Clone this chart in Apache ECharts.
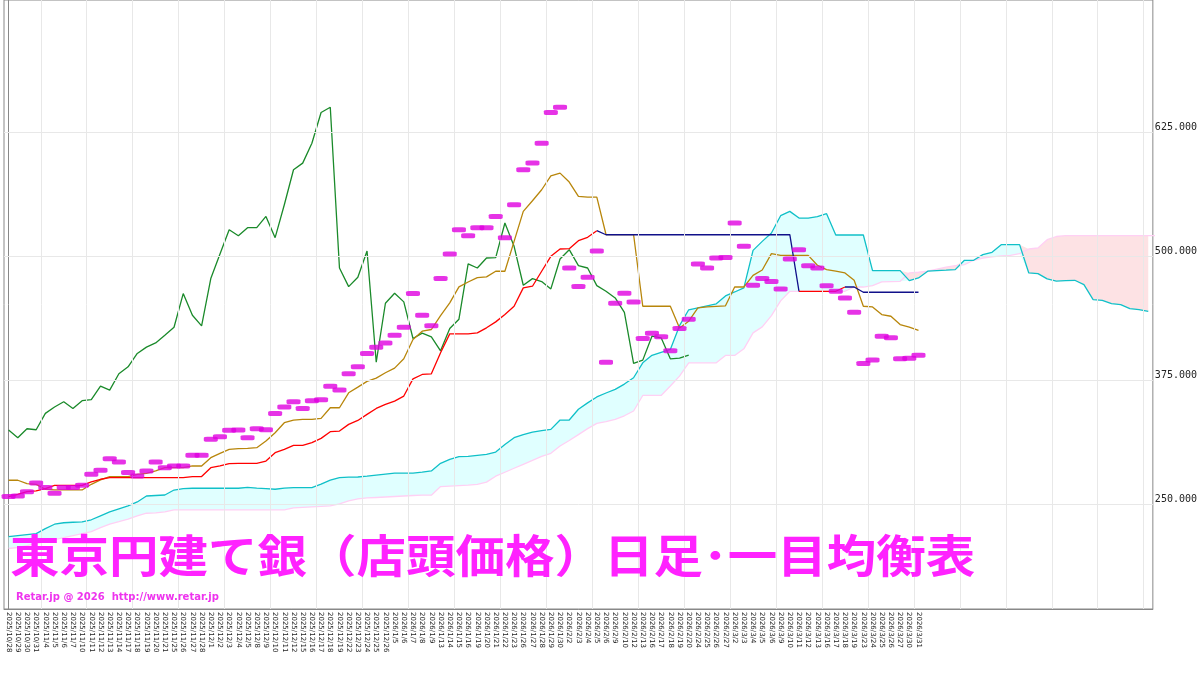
<!DOCTYPE html>
<html><head><meta charset="utf-8">
<script src="https://cdn.jsdelivr.net/npm/echarts@6/dist/echarts.min.js"></script>
<style>html,body{margin:0;padding:0;background:#fff}#c{width:1200px;height:675px}</style>
</head><body><div id="c"></div>
<script>
const dates = ["2025/10/28","2025/10/29","2025/10/30","2025/10/31","2025/11/4","2025/11/5","2025/11/6","2025/11/7","2025/11/10","2025/11/11","2025/11/12","2025/11/13","2025/11/14","2025/11/17","2025/11/18","2025/11/19","2025/11/20","2025/11/21","2025/11/25","2025/11/26","2025/11/27","2025/11/28","2025/12/1","2025/12/2","2025/12/3","2025/12/4","2025/12/5","2025/12/8","2025/12/9","2025/12/10","2025/12/11","2025/12/12","2025/12/15","2025/12/16","2025/12/17","2025/12/18","2025/12/19","2025/12/22","2025/12/23","2025/12/24","2025/12/25","2025/12/26","2026/1/5","2026/1/6","2026/1/7","2026/1/8","2026/1/9","2026/1/13","2026/1/14","2026/1/15","2026/1/16","2026/1/19","2026/1/20","2026/1/21","2026/1/22","2026/1/23","2026/1/26","2026/1/27","2026/1/28","2026/1/29","2026/1/30","2026/2/2","2026/2/3","2026/2/4","2026/2/5","2026/2/6","2026/2/9","2026/2/10","2026/2/12","2026/2/13","2026/2/16","2026/2/17","2026/2/18","2026/2/19","2026/2/20","2026/2/24","2026/2/25","2026/2/26","2026/2/27","2026/3/2","2026/3/3","2026/3/4","2026/3/5","2026/3/6","2026/3/9","2026/3/10","2026/3/11","2026/3/12","2026/3/13","2026/3/16","2026/3/17","2026/3/18","2026/3/19","2026/3/23","2026/3/24","2026/3/25","2026/3/26","2026/3/27","2026/3/30","2026/3/31"];
const futureCount = 25;
const closes = [257.4,258,262.4,271.2,266.5,260.7,266.5,266.5,268.8,279.9,284,295.7,292.3,281.6,278.2,283.3,292.3,286.6,288.3,288.3,299.1,299.1,315.2,317.9,324.3,
324.6,316.9,325.9,324.9,341.4,347.8,353.2,346.4,354.2,355.2,368.9,364.9,381.4,388.4,401.9,408.3,412.6,420.4,428.4,462.4,440.5,429.8,477.5,502.4,526.9,520.8,528.9,528.9,540.3,518.8,552.1,587.4,594.1,614.2,645.2,650.5,488.2,469.4,478.8,505.4,393.1,452.6,462.7,454.0,417.0,422.4,418.7,404.6,427.1,436.5,492.3,488.2,498.3,498.7,533.6,510.1,470.8,477.5,474.5,467.1,497.3,506.7,490.6,488.2,470.4,464.7,458.0,443.5,391.8,395.2,419.4,417.7,396.5,397.2,400.2];
const laggingShift = 25;
const tenkan = [273.9,273.9,270.5,269.8,264.8,264.1,264.1,264.1,264.1,269.8,274.2,277.6,277.6,277.6,279.9,280.9,283.3,286.6,286.6,286.6,288.3,288.3,296.7,301.1,305.1,305.8,306.1,306.8,313.5,321.9,332,334.7,335.3,335.3,336.4,347.1,347.1,362.2,367.9,373.7,377,382.4,387.1,396.5,416,424.4,426.1,440.2,453,469.1,474.1,478.5,479.2,484.9,484.9,515.1,545.4,556.1,567.2,581.3,584,575,560.5,559.8,559.8,522,522,522,522,449.6,449.6,449.6,449.6,427.7,434.5,447.9,449,449.5,450,469,469,480.8,486.2,502.7,501,501,501,501,491,486.6,485,483.2,475.8,449.6,448.9,441.2,439.5,431.1,428.4,425.3];
const kijun = [257.4,259.7,262.4,263.1,265.5,268.8,268.8,268.8,268.8,272.2,274.9,276.6,276.6,276.6,276.6,276.6,276.6,276.6,276.6,276.6,277.6,277.6,286.6,288.3,290.7,291,291,291,293.3,301.7,305.1,309.1,309.1,311.8,316.2,322.9,323.6,330.3,334.3,340.4,346.4,350.5,353.8,358.9,376.3,380.7,381.4,402.6,421.7,421.7,421.7,422.7,427.8,433.8,441.2,449.6,468.1,469.8,484.9,500,507.4,507.7,515.8,519.2,525.9,521.8,521.8,521.8,521.8,521.8,521.8,521.8,521.8,521.8,521.8,521.8,521.8,521.8,521.8,521.8,521.8,521.8,521.8,521.8,521.8,521.8,464.7,464.7,464.7,464.7,464.7,469,469,463.7,463.7,463.7,463.7,463.7,463.7,463.7];
const kijunRedRanges = [[0,64],[86,91]];
const spanA = [217,218,219,220,225,229.5,231,231.5,231.8,234,238,241.9,245,248,252,258,258.5,259,264,265.5,265.8,265.8,265.8,265.8,265.8,265.8,266.8,266,265.5,264.8,266,266.5,266.5,266.5,270,274,276.5,277,277.2,278,279,280,281,281,281,282,283.3,291,295,297.7,298,299,300,302.4,310,316.9,320,322.5,324,325.3,334.7,334.7,345.6,352,358,362,365.6,371,377.4,392.5,400,403,406,430,446,448,450,452,460,464,468.1,506,515.1,523.5,541,545.4,538.6,538.6,540,543,521.5,521.5,521.5,521.5,485.6,485.6,485.6,485.6,475.5,478.2,485,485.5,486,486.6,496,496,501.7,504,511.8,511.8,511.8,483.2,482.5,477.2,475,475.5,475.8,471.4,456.3,455.6,452.3,451.3,447.2,446.2,444.5];
const spanB = [205,206,208,210,212,214,216,218,220,222,226,229.5,232,234.6,238,240.6,241,242,244,244,244,244,244,244,244,244,244,244,244,244,244,246,246.5,247,247.5,248,250,253,255,256,256.5,257,257.5,258,258.5,258.8,258.8,267.5,268,268.5,269,269.8,272,278,282,286,290,294,298,301.1,308.5,314,320,326,331.3,333,335.3,339,343.8,359.5,359.5,359.5,369,379,392.5,392.5,392.5,392.5,399.9,399.9,406.6,422.7,428.8,440.2,455,464.7,464.7,464.7,464.7,464.7,464.7,464.7,469,469,470.4,474.1,474.5,474.8,483.2,483.9,485,487,489,490.5,491.6,496,498.3,499.5,500.5,501,502.7,507.4,508.4,516.8,520,520.8,520.8,520.8,520.8,520.8,520.8,520.8,520.8,520.8,520.8,520.8];
const yTicks = [250,375,500,625];
const titleText = "東京円建て銀（店頭価格）日足･一目均衡表";
const creditText = "Retar.jp @ 2026  http://www.retar.jp";

const N = dates.length + futureCount;
const cats = dates.concat(Array(futureCount).fill(""));
const lagging = closes.slice(laggingShift);
const inRed = i => kijunRedRanges.some(r=>i>=r[0]&&i<=r[1]);
const kRed = kijun.map((v,i)=> inRed(i)?v:null);
const kBlue = kijun.map((v,i)=> (!inRed(i) || (i>0&&!inRed(i-1)) || (i<kijun.length-1&&!inRed(i+1))) && i>=64 ? v : null);
const base = spanA.map((a,i)=>Math.min(a,spanB[i]));
const upA = spanA.map((a,i)=>Math.max(0,a-spanB[i]));
const upB = spanA.map((a,i)=>Math.max(0,spanB[i]-a));
const vGrid = []; for (let k=3.5;k<N;k+=5) vGrid.push({xAxis:k});
const hGrid = yTicks.map(v=>({yAxis:v}));
const line = (name,data,color,extra)=>Object.assign({type:'line',name,xAxisIndex:1,data,symbol:'none',lineStyle:{color,width:1.3},itemStyle:{color},z:3},extra||{});
const area = (data,color)=>({type:'line',xAxisIndex:1,data,stack:'cloud',symbol:'none',lineStyle:{width:0},areaStyle:color?{color,opacity:1}:{opacity:0},silent:true,z:1});

const chart = echarts.init(document.getElementById('c'));
chart.setOption({
  animation:false,
  backgroundColor:'#fff',
  grid:{left:4,right:47,top:0,bottom:66,show:true,borderColor:'#888',borderWidth:1},
  xAxis:[
    {type:'value',min:-0.5,max:N-0.5,show:false},
    {type:'category',data:cats,boundaryGap:true,position:'bottom',axisLine:{lineStyle:{color:'#888'}},axisTick:{show:false},
     axisLabel:{interval:0,rotate:-90,fontSize:7,color:'#222',margin:3,fontFamily:'DejaVu Sans'}}
  ],
  yAxis:{type:'value',min:143.9,max:758.8,position:'right',splitLine:{show:false},
    axisLine:{show:true,lineStyle:{color:'#888'}},axisTick:{show:false},
    axisLabel:{customValues:yTicks,formatter:v=>v.toFixed(3),fontSize:10,color:'#222',fontFamily:'DejaVu Sans Mono',margin:2,verticalAlign:'bottom'}},
  graphic:[
    {type:'text',x:10,y:533,scaleX:1.1,z:10,style:{text:titleText,fontSize:45,fontWeight:'bold',fill:'#ff22ff',fontFamily:'Noto Sans CJK JP'}},
    {type:'text',left:16,top:592,z:10,style:{text:creditText,fontSize:10,fontWeight:'bold',fill:'#ee33ee',fontFamily:'DejaVu Sans'}}
  ],
  series:[
    {type:'line',xAxisIndex:0,data:[],symbol:'none',silent:true,z:0,
     markLine:{silent:true,symbol:'none',animation:false,label:{show:false},lineStyle:{color:'#e8e8e8',type:'solid',width:1},data:vGrid.concat(hGrid)}},
    area(base,null),
    area(upA,'#e0ffff'),
    area(upB,'#fde2e4'),
    line('先行スパン2',spanB,'#ffd0f4',{z:2}),
    line('先行スパン1',spanA,'#10c0c8',{z:2}),
    line('遅行スパン',lagging,'#1a8a2a'),
    line('転換線',tenkan,'#b8860b'),
    line('基準線',kBlue,'#10108a'),
    line('基準線R',kRed,'#ff0000'),
    {type:'scatter',xAxisIndex:1,data:closes,symbol:'roundRect',symbolSize:[14,5],itemStyle:{color:'#e000e0'},z:5}
  ]
});
</script></body></html>
